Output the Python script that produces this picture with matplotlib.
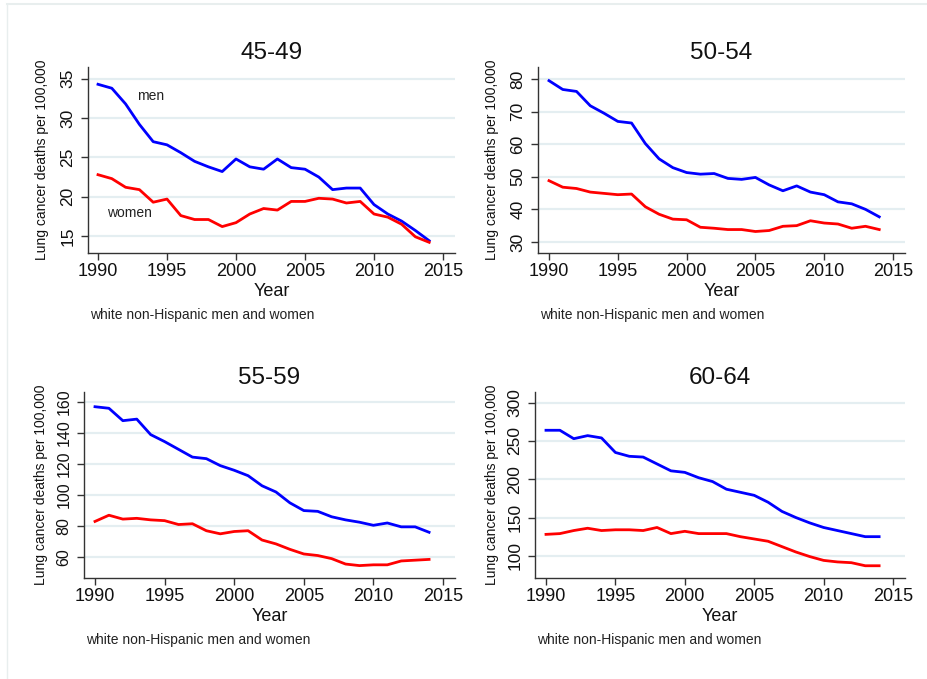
import matplotlib
matplotlib.use("Agg")
import matplotlib.pyplot as plt
from matplotlib import font_manager
from matplotlib.lines import Line2D

plt.rcParams['font.family'] = ['Liberation Sans', 'DejaVu Sans']

# narrow face for the squeezed y labels of the lower panels, if it is there
installed = {f.name for f in font_manager.fontManager.ttflist}
NARROW = 'Liberation Sans Narrow' if 'Liberation Sans Narrow' in installed else 'Liberation Sans'

years = list(range(1990, 2015))

# ── data ──────────────────────────────────────────────────────
men_45_49 = [34.3, 33.8, 31.8, 29.2, 27.0, 26.6, 25.6, 24.5, 23.8, 23.2, 24.8, 23.8, 23.5,
             24.8, 23.7, 23.5, 22.5, 20.9, 21.1, 21.1, 19.0, 17.8, 16.9, 15.7, 14.4]
women_45_49 = [22.8, 22.3, 21.2, 20.9, 19.3, 19.7, 17.6, 17.1, 17.1, 16.2, 16.7, 17.8, 18.5,
               18.3, 19.4, 19.4, 19.8, 19.7, 19.2, 19.4, 17.8, 17.4, 16.5, 14.9, 14.2]

men_50_54 = [79.5, 76.8, 76.2, 71.8, 69.5, 67.0, 66.5, 60.2, 55.5, 52.8, 51.3, 50.8, 51.0,
             49.5, 49.2, 49.8, 47.5, 45.7, 47.2, 45.3, 44.5, 42.3, 41.7, 40.0, 37.7]
women_50_54 = [48.8, 46.8, 46.4, 45.3, 44.9, 44.5, 44.7, 40.8, 38.5, 37.0, 36.8, 34.5, 34.2,
               33.8, 33.8, 33.2, 33.5, 34.8, 35.0, 36.5, 35.8, 35.5, 34.2, 34.8, 33.8]

men_55_59 = [157, 156, 148, 149, 139, 134.5, 129.5, 124.5, 123.5, 119, 116, 112.5, 106,
             102, 95, 90, 89.5, 86, 84, 82.5, 80.5, 82, 79.5, 79.5, 76]
women_55_59 = [83, 87, 84.5, 85, 84, 83.5, 81, 81.5, 77, 75, 76.5, 77, 71,
               68.5, 65, 62, 61, 59, 55.5, 54.5, 55, 55, 57.5, 58, 58.5]

men_60_64 = [264, 264, 253, 257, 254, 235, 230, 229, 220, 211, 209, 202, 197,
             187, 183, 179, 170, 158, 150, 143, 137, 133, 129, 125, 125]
women_60_64 = [128, 129, 133, 136, 133, 134, 134, 133, 137, 129, 132, 129, 129,
               129, 125, 122, 119, 112, 105, 99, 94, 92, 91, 87, 87]

titles = ['45-49', '50-54', '55-59', '60-64']
yticks = [[15, 20, 25, 30, 35],
          [30, 40, 50, 60, 70, 80],
          [60, 80, 100, 120, 140, 160],
          [100, 150, 200, 250, 300]]
ylims = [(12.84, 36.5), (26.6, 83.7), (46.5, 166.5), (71, 314)]
ytick_font = [('Liberation Sans', 12.5), ('Liberation Sans', 12.5), (NARROW, 11.5), (NARROW, 12.5)]
xticks = [1990, 1995, 2000, 2005, 2010, 2015]

panels = [(men_45_49, women_45_49), (men_50_54, women_50_54),
          (men_55_59, women_55_59), (men_60_64, women_60_64)]

W, H = 927, 679
fig = plt.figure(figsize=(W / 100, H / 100), dpi=100)

# axes boxes in pixels: left, top, right, bottom
boxes = [(88, 67, 455, 253), (538, 67, 905, 253),
         (84, 392, 455, 578), (535, 392, 905, 578)]
x1990 = [98, 549, 95, 546]
x2015 = [443, 893, 443, 893]

GRID = '#e4eef1'
SPINE = '#333333'
TXT = '#111111'

for k, (ax_box, (men, women)) in enumerate(zip(boxes, panels)):
    l, t, r, b = ax_box
    ax = fig.add_axes([l / W, 1 - b / H, (r - l) / W, (b - t) / H])
    per_year = (x2015[k] - x1990[k]) / 25
    ax.set_xlim(1990 - (x1990[k] - l) / per_year, 2015 + (r - x2015[k]) / per_year)
    ax.set_ylim(*ylims[k])

    for v in yticks[k]:
        ax.axhline(v, color=GRID, lw=1.6, zorder=0)
    ax.plot(years, men, color='#0000ff', lw=2.0, zorder=3)
    ax.plot(years, women, color='#ff0000', lw=2.0, zorder=3)

    ax.set_xticks(xticks)
    ax.set_yticks(yticks[k])
    fam, size = ytick_font[k]
    ax.set_yticklabels([str(v) for v in yticks[k]], rotation=90, va='center',
                       family=fam, fontsize=size)
    ax.tick_params(axis='both', length=5, width=1, color=SPINE, labelcolor=TXT)
    ax.tick_params(axis='x', labelsize=13, pad=2)
    ax.tick_params(axis='y', pad=4)
    for s in ['top', 'right']:
        ax.spines[s].set_visible(False)
    for s in ['left', 'bottom']:
        ax.spines[s].set_color(SPINE)
        ax.spines[s].set_linewidth(1)

    ax.set_title(titles[k], fontsize=17.5, pad=6, color=TXT)
    ax.set_xlabel('Year', fontsize=13, labelpad=2.5, color=TXT)
    ax.set_ylabel('Lung cancer deaths per 100,000', fontsize=10, labelpad=0, color=TXT)
    ax.yaxis.set_label_coords(-0.107 if k in (0, 1) else -0.097, 0.5)
    ax.text(0.005, -0.335, 'white non-Hispanic men and women', transform=ax.transAxes,
            fontsize=10, color='#222222', ha='left', va='center')

    if k == 0:
        ax.text(1993.8, 32.8, 'men', fontsize=10, color='#222222', ha='center', va='center')
        ax.text(1992.3, 17.9, 'women', fontsize=10, color='#222222', ha='center', va='center')

# faint outer frame lines seen in the screenshot
fig.add_artist(Line2D([7 / W, 1], [1 - 4 / H, 1 - 4 / H], color='#e8eeee', lw=1.5))
fig.add_artist(Line2D([7 / W, 7 / W], [0, 1 - 4 / H], color='#e8eeee', lw=1.0))

fig.savefig('out.png', dpi=100)
